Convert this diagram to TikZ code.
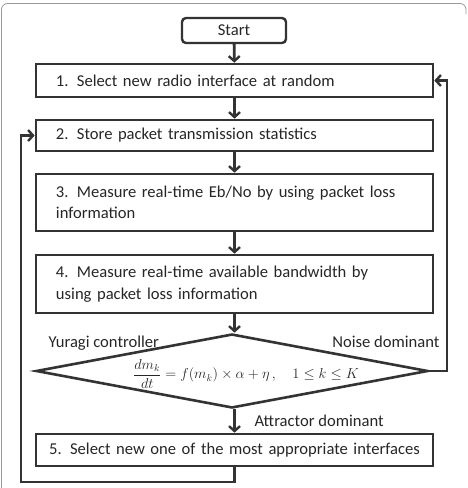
\documentclass[tikz,border=0pt]{standalone}
\usepackage{fontspec}
\setmainfont{Carlito}
\usetikzlibrary{arrows.meta,positioning,shapes.geometric}

\begin{document}
\begin{tikzpicture}[x=1pt, y=-1pt,
    % --- styles ---
    step text/.style={font=\fontsize{16.6}{21.5}\selectfont, text=black!85},
    box/.style={draw=black!80, line width=2.6pt, rectangle, minimum width=397pt,
        text width=357pt, align=left, inner xsep=20pt, step text},
    start box/.style={draw=black!80, line width=2.4pt, rectangle, rounded corners=4pt,
        minimum width=104pt, minimum height=25pt, step text},
    flow/.style={draw=black!80, line width=2.8pt, -{Straight Barb[length=5pt, width=11pt, line width=2.4pt]}},
    loop/.style={draw=black!80, line width=2.8pt}
]
    \useasboundingbox (0,0) rectangle (468,488);

    % --- 0. outer frame ---
    \draw[gray!80, line width=0.8pt, rounded corners=6pt] (1.5,488) -- (1.5,3.5) -- (466,3.5) -- (466,14);

    % --- 1. steps ---
    \node[start box] (start) at (234,30.5) {Start};
    \node[box, minimum height=33pt] (sel) at (234.5,80.5) {1. Select new radio interface at random};
    \node[box, minimum height=31pt] (store) at (234.5,135.5) {2. Store packet transmission statistics};
    \node[box, minimum height=57pt] (ebno) at (234.5,202.5) {3. Measure real-time Eb/No by using packet loss\\information};
    \node[box, minimum height=58pt] (bw) at (234.5,284) {4. Measure real-time available bandwidth by\\using packet loss information};

    % --- 2. Yuragi controller (diamond) ---
    \node[diamond, draw=black!80, line width=2.6pt, inner sep=0pt, aspect=5.3,
        minimum width=392pt, minimum height=74pt] (yuragi) at (232,371) {};
    \node[font=\fontsize{14.2}{16}\selectfont, text=black!85] (eqn) at (246,374)
        {$\displaystyle\frac{dm_k}{dt} = f(m_k)\times\alpha+\eta\,,\quad 1\le k\le K$};
    \node[step text, anchor=base west] (ctrl) at (45,347) {Yuragi controller};
    \node[step text, anchor=base east] (noise) at (443,347) {Noise dominant};
    \node[step text, anchor=base west] (attr) at (251,426) {Attractor dominant};

    \node[box, minimum height=32pt, align=center, inner xsep=4pt, text width=389pt] (best) at (234.5,450)
        {5. Select new one of the most appropriate interfaces};

    % --- 3. connectors ---
    \draw[flow] (start) -- (sel);
    \draw[flow] (sel) -- (store);
    \draw[flow] (store) -- (ebno);
    \draw[flow] (ebno) -- (bw);
    \draw[flow] (bw.south) -- (yuragi.north -| bw.south);
    \draw[flow] (yuragi.south -| best.north) -- (best);

    % --- 4. feedback loops ---
    \coordinate (back_low) at (best.south |- 0,482);
    \draw[loop, -{Straight Barb[length=5pt, width=11pt, line width=2.4pt]}]
        (best.south) -- (back_low) -- (21,482) -- (21,135.5) -- (store.west);
    \draw[loop, -{Straight Barb[length=5pt, width=11pt, line width=2.4pt]}]
        (yuragi.east) -- (447,371) -- (447,80.5) -- (sel.east);
\end{tikzpicture}
\end{document}
